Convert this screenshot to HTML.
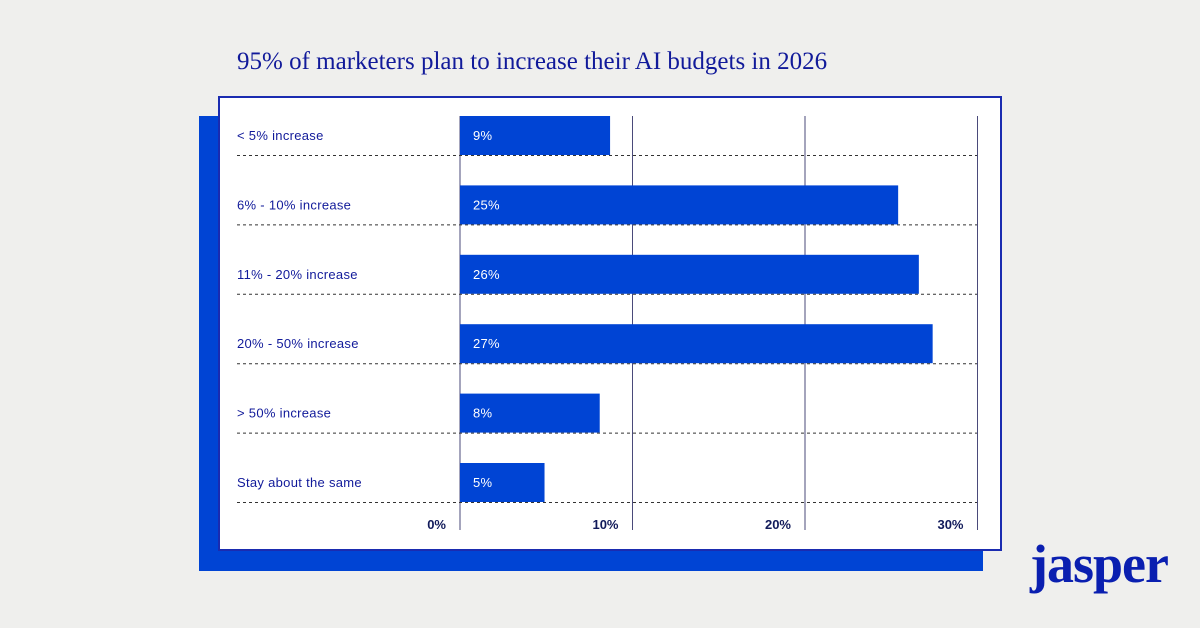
<!DOCTYPE html>
<html><head><meta charset="utf-8"><style>
body{margin:0;width:1200px;height:628px;background:#efefed;overflow:hidden;font-family:"Liberation Sans",sans-serif}
.abs{position:absolute}
</style></head><body>
<div class="abs" style="left:237px;top:48px;font-family:'Liberation Serif',serif;font-size:25px;color:#111a9a;white-space:nowrap">95% of marketers plan to increase their AI budgets in 2026</div>
<div class="abs" style="left:199px;top:116px;width:784px;height:455px;background:#0044d4"></div>
<div class="abs" style="left:218px;top:96px;width:780px;height:451px;background:#fff;border:2px solid #1a2bb0"></div>
<svg class="abs" style="left:0;top:0" width="1200" height="628" id="chart"></svg>
<div class="abs" style="left:1030px;top:533px;font-family:'Liberation Serif',serif;font-weight:bold;font-size:54px;color:#0a1fb0;letter-spacing:-1px">jasper</div>
<script>
const categories=["< 5% increase","6% - 10% increase","11% - 20% increase","20% - 50% increase","> 50% increase","Stay about the same"];
const values=[8.7,25.4,26.6,27.4,8.1,4.9];
const valueLabels=["9%","25%","26%","27%","8%","5%"];
const ticks=[0,10,20,30];
const tickLabels=["0%","10%","20%","30%"];
const svg=document.getElementById('chart');
const NS='http://www.w3.org/2000/svg';
const x0=460,pxPer=17.25,top0=116,rowH=69.4,barH=39;
const xs=v=>x0+v*pxPer;
function mk(t,a){const e=document.createElementNS(NS,t);for(const k in a)e.setAttribute(k,a[k]);svg.appendChild(e);return e;}
ticks.forEach((t,i)=>{
 const g=mk('line',{x1:xs(t),x2:xs(t),y1:116,y2:530,stroke:'#4a4a7a','stroke-width':1});
 
 
 const tl=mk('text',{x:xs(t)-14,y:529,'text-anchor':'end','font-size':13,fill:'#111a5a','font-weight':'bold'});
 tl.textContent=tickLabels[i];
 
 
});
categories.forEach((c,i)=>{
 const y=top0+i*rowH;
 const b=mk('rect',{x:x0,y:y,width:xs(values[i])-x0,height:barH,fill:'#0044d4'});
 
 
 const v=mk('text',{x:x0+13,y:y+24,'font-size':13,fill:'#fff','letter-spacing':0.3});
 v.textContent=valueLabels[i];
 
 
 const l=mk('text',{x:237,y:y+24,'font-size':13,fill:'#111a9a','letter-spacing':0.3});
 l.textContent=c;
 
 
 const d=mk('line',{x1:237,x2:977,y1:y+barH+0.5,y2:y+barH+0.5,stroke:'#333','stroke-width':1,'stroke-dasharray':'3,3'});
 
 
});
</script>
</body></html>
